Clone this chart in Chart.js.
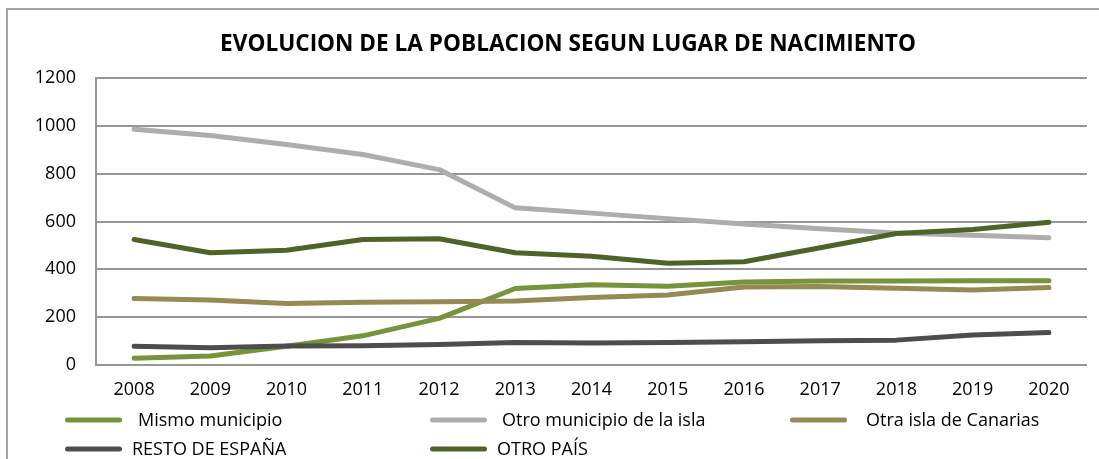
<!DOCTYPE html>
<html>
<head>
<meta charset="utf-8">
<script src="https://cdn.jsdelivr.net/npm/chart.js@4/dist/chart.umd.min.js"></script>
<style>
  html, body { margin: 0; padding: 0; background: #fff; overflow: hidden; }
  #marco {
    position: absolute; left: 6px; top: 8px; width: 1200px; height: 600px;
    border: 2px solid #a3a3a3; box-sizing: border-box;
  }
  #wrap { position: absolute; left: 0; top: 0; width: 1099px; height: 459px; }
</style>
</head>
<body>
<div id="marco"></div>
<div id="wrap"><canvas id="grafico" width="1099" height="459"></canvas></div>
<script>
const anios = ["2008", "2009", "2010", "2011", "2012", "2013", "2014", "2015", "2016", "2017", "2018", "2019", "2020"];
const mismoMunicipio = [28, 38, 78, 122, 195, 320, 336, 329, 347, 351, 351, 352, 352];
const otroMunicipio = [986, 960, 922, 880, 817, 657, 635, 612, 590, 570, 552, 542, 532];
const otraIsla = [278, 272, 257, 262, 264, 268, 282, 293, 326, 328, 321, 314, 324];
const restoEspana = [78, 72, 79, 80, 86, 94, 92, 94, 97, 101, 104, 125, 136];
const otroPais = [525, 469, 480, 525, 528, 469, 455, 425, 432, 490, 550, 567, 597];
const ticksY = [0, 200, 400, 600, 800, 1000, 1200];

const titulo = "EVOLUCION DE LA POBLACION SEGUN LUGAR DE NACIMIENTO";
const fuente = "'Open Sans', 'DejaVu Sans', sans-serif";

// titulo y leyenda dibujados a mano, como en la hoja de calculo
const decorado = {
    id: "decorado",
    afterDraw(chart) {
        const ctx = chart.ctx;
        ctx.save();
        ctx.fillStyle = "#000";
        ctx.textBaseline = "middle";
        ctx.textAlign = "center";
        ctx.font = "bold 22.6px " + fuente;
        ctx.fillText(titulo, 568, 45);

        const columnas = [65, 430, 790];
        const textoX = [[138, 502, 866], [132, 497]];
        const filas = [420, 449];
        ctx.textAlign = "left";
        ctx.font = "18px " + fuente;
        chart.data.datasets.forEach((ds, i) => {
            const fila = Math.floor(i / 3);
            const col = i % 3;
            const x = columnas[col];
            const y = filas[fila];
            ctx.beginPath();
            ctx.lineWidth = 5;
            ctx.lineCap = "round";
            ctx.strokeStyle = ds.borderColor;
            ctx.moveTo(x + 2.5, y);
            ctx.lineTo(x + 54.5, y);
            ctx.stroke();
            ctx.fillText(ds.label, textoX[fila][col], y + 1);
        });
        ctx.restore();
    }
};

const serie = (label, data, color, orden) => ({
    label: label,
    data: data,
    borderColor: color,
    backgroundColor: color,
    borderWidth: 5,
    borderCapStyle: "round",
    borderJoinStyle: "round",
    pointRadius: 0,
    tension: 0,
    order: orden
});

new Chart(document.getElementById("grafico"), {
    type: "line",
    data: {
        labels: anios,
        datasets: [
            serie("Mismo municipio", mismoMunicipio, "#77933C", 5),
            serie("Otro municipio de la isla", otroMunicipio, "#ADADAD", 4),
            serie("Otra isla de Canarias", otraIsla, "#948A54", 3),
            serie("RESTO DE ESPAÑA", restoEspana, "#4D4D4D", 2),
            serie("OTRO PAÍS", otroPais, "#4F6228", 1)
        ]
    },
    options: {
        responsive: false,
        animation: false,
        layout: { padding: { left: 0, right: 12, top: 78, bottom: 0 } },
        plugins: {
            legend: { display: false },
            tooltip: { enabled: false },
            title: { display: false }
        },
        scales: {
            x: {
                offset: true,
                grid: { display: false, drawTicks: false },
                border: { display: false },
                ticks: { color: "#000", padding: 14, font: { family: fuente, size: 18 } },
                afterFit(scale) { scale.height = 94; }
            },
            y: {
                min: 0,
                max: 1200,
                afterBuildTicks(scale) { scale.ticks = ticksY.map(v => ({ value: v })); },
                grid: { color: "#969696", lineWidth: 2, drawTicks: false },
                border: { display: true, color: "#969696", width: 2 },
                ticks: {
                    color: "#000",
                    padding: 20,
                    font: { family: fuente, size: 18 },
                    callback: v => String(v)
                },
                afterFit(scale) { scale.width = 96; }
            }
        }
    },
    plugins: [decorado]
});
</script>
</body>
</html>
